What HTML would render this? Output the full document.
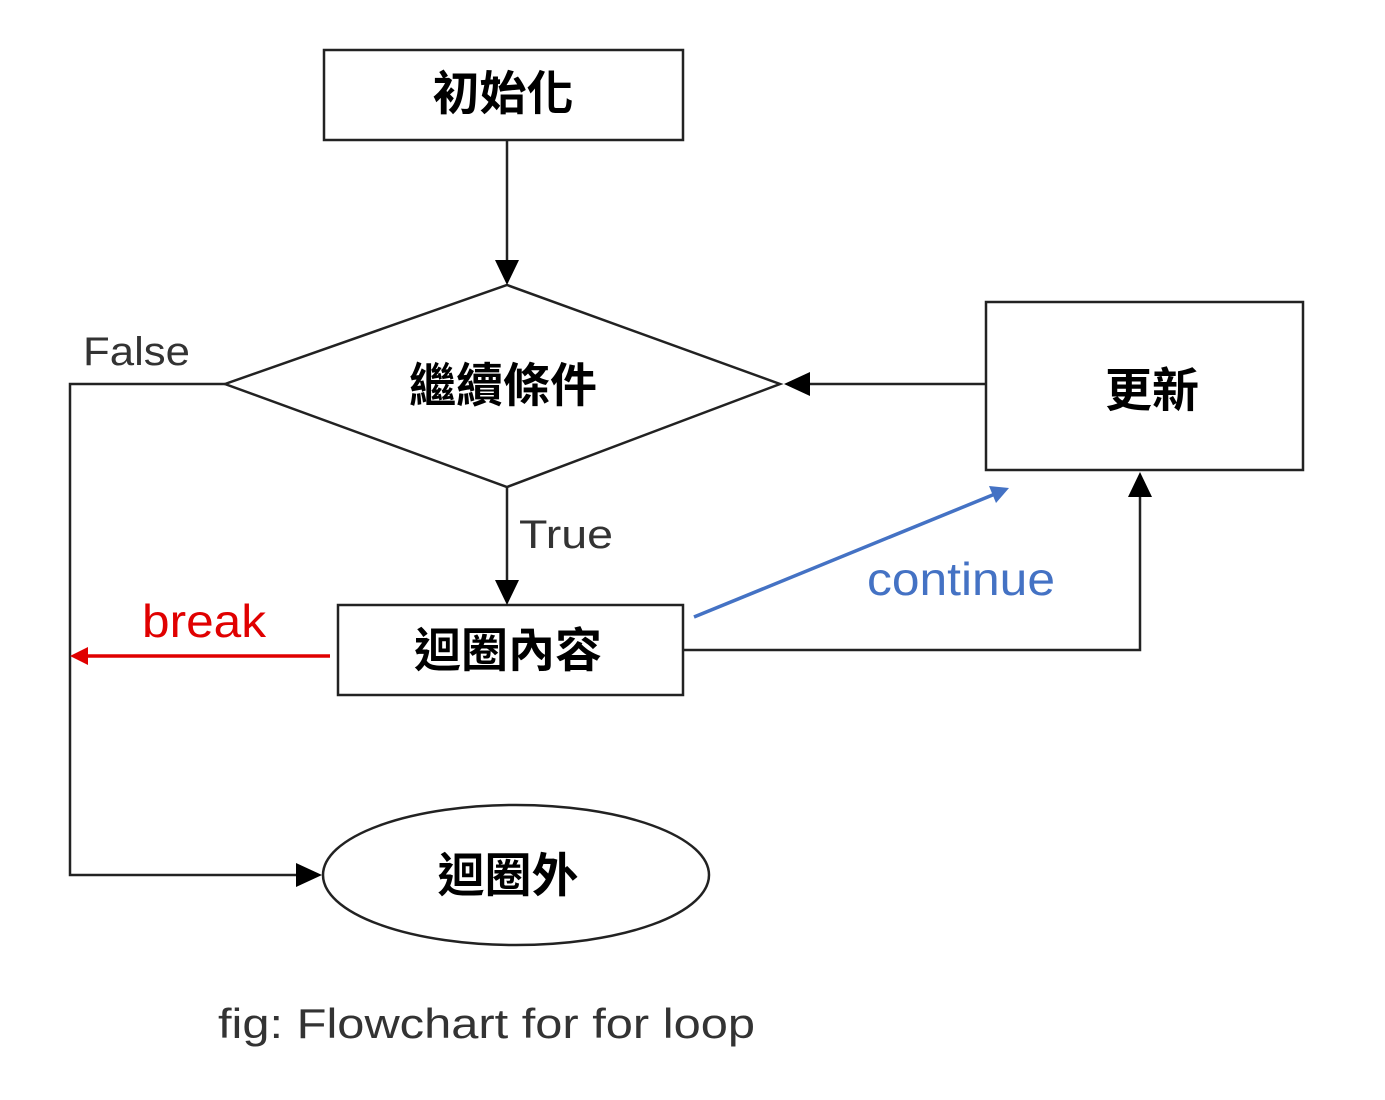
<!DOCTYPE html>
<html><head><meta charset="utf-8"><style>
html,body{margin:0;padding:0;background:#fff;}
svg{display:block;}
.cjk{font-family:"Liberation Sans","Noto Sans CJK TC",sans-serif;font-size:47px;fill:#000;font-weight:bold;}
.lat{font-family:"Liberation Sans",sans-serif;}
</style></head><body>
<svg width="1385" height="1100" viewBox="0 0 1385 1100" xmlns="http://www.w3.org/2000/svg">
<g stroke="#222" stroke-width="2.5" fill="none">
<rect x="324" y="50" width="359" height="90"/>
<polygon points="225,384 507,285 780,384 507,487"/>
<rect x="986" y="302" width="317" height="168"/>
<rect x="338" y="605" width="345" height="90"/>
<ellipse cx="516" cy="875" rx="193" ry="70"/>
<line x1="507" y1="140" x2="507" y2="265"/>
<line x1="986" y1="384" x2="800" y2="384"/>
<line x1="507" y1="487" x2="507" y2="585"/>
<polyline points="683,650 1140,650 1140,492"/>
<polyline points="225,384 70,384 70,875 300,875"/>
</g>
<g fill="#000">
<polygon points="495,260 519,260 507,285"/>
<polygon points="810,372 810,396 784,384"/>
<polygon points="495,580 519,580 507,605"/>
<polygon points="1128,497 1152,497 1140,472"/>
<polygon points="296,863 296,887 322,875"/>
</g>
<line x1="330" y1="656" x2="84" y2="656" stroke="#e00000" stroke-width="3.5"/>
<polygon points="70,656 88,647 88,665" fill="#e00000"/>
<line x1="694" y1="617" x2="995" y2="494" stroke="#4472c4" stroke-width="3.5"/>
<polygon points="1009,488 989,486 996,503" fill="#4472c4"/>
<text class="cjk" x="503" y="110" text-anchor="middle">初始化</text>
<text class="cjk" x="503" y="402" text-anchor="middle">繼續條件</text>
<text class="cjk" x="1152" y="407" text-anchor="middle">更新</text>
<text class="cjk" x="508" y="667" text-anchor="middle">迴圈內容</text>
<text class="cjk" x="508" y="892" text-anchor="middle">迴圈外</text>
<text class="lat" x="83" y="365" font-size="40" fill="#333" textLength="107" lengthAdjust="spacingAndGlyphs">False</text>
<text class="lat" x="519" y="548" font-size="40" fill="#333" textLength="94" lengthAdjust="spacingAndGlyphs">True</text>
<text class="lat" x="142" y="637" font-size="46" fill="#e00000" textLength="124" lengthAdjust="spacingAndGlyphs">break</text>
<text class="lat" x="867" y="595" font-size="46" fill="#4472c4" textLength="188" lengthAdjust="spacingAndGlyphs">continue</text>
<text class="lat" x="218" y="1038" font-size="42" fill="#333" textLength="537" lengthAdjust="spacingAndGlyphs">fig: Flowchart for for loop</text>
</svg>
</body></html>
